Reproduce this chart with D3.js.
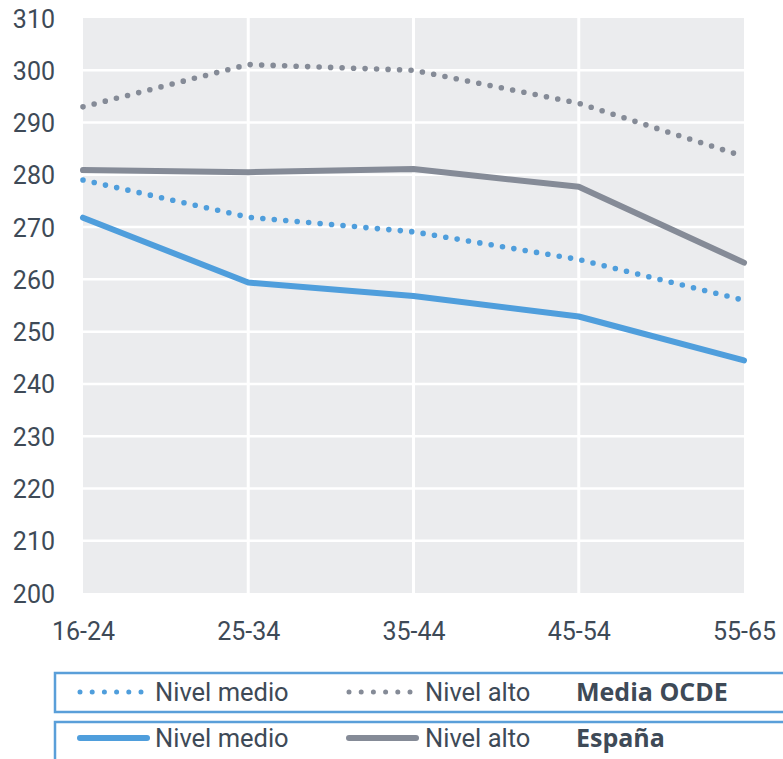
<!DOCTYPE html>
<html>
<head>
<meta charset="utf-8">
<script src="https://cdn.jsdelivr.net/npm/d3@7"></script>
<style>
  body { margin: 0; background: #fff; }
  text { font-family: Roboto, "Noto Sans", sans-serif; fill: #3e4a57; }
  text.legend-title { font-family: "Open Sans", Roboto, sans-serif; font-weight: bold; }
</style>
</head>
<body>
<div class="line-chart"></div>
<script>
// age groups and scores
const ageGroups = ["16-24", "25-34", "35-44", "45-54", "55-65"]
const oecdMedio = [279, 271.9, 269.1, 263.8, 256]
const oecdAlto = [293, 301.1, 300, 293.7, 283.5]
const spainMedio = [271.8, 259.4, 256.8, 252.9, 244.5]
const spainAlto = [280.9, 280.5, 281.1, 277.7, 263.2]
const yTicks = [200, 210, 220, 230, 240, 250, 260, 270, 280, 290, 300, 310]

const legendRows = [
  { title: "Media OCDE", items: [
    { label: "Nivel medio", color: "blue", dotted: true },
    { label: "Nivel alto", color: "gray", dotted: true }
  ]},
  { title: "España", items: [
    { label: "Nivel medio", color: "blue", dotted: false },
    { label: "Nivel alto", color: "gray", dotted: false }
  ]}
]

const colors = { blue: "#4f9edc", gray: "#858b97" }

/**
* Draws the score-by-age line chart with its boxed legend
*/
function generateLineChart () {
  const width = 783
  const height = 759
  const margin = { top: 18, right: 39, bottom: 166, left: 83 }

  const svg = d3.select(".line-chart").append("svg")
    .attr("width", width)
    .attr("height", height)

  const x = d3.scalePoint()
    .domain(ageGroups)
    .range([margin.left, width - margin.right])

  const y = d3.scaleLinear()
    .domain([200, 310])
    .range([height - margin.bottom, margin.top])

  // plot background
  svg.append("rect")
    .attr("x", x.range()[0])
    .attr("y", y(310))
    .attr("width", x.range()[1] - x.range()[0])
    .attr("height", y(200) - y(310))
    .attr("fill", "#ebecee")

  // white grid
  svg.append("g")
    .selectAll("line")
    .data(yTicks.slice(1, -1))
    .enter().append("line")
    .attr("x1", x.range()[0])
    .attr("x2", x.range()[1])
    .attr("y1", d => y(d))
    .attr("y2", d => y(d))
    .attr("stroke", "#fff")
    .attr("stroke-width", 2.5)

  svg.append("g")
    .selectAll("line")
    .data(ageGroups.slice(1, -1))
    .enter().append("line")
    .attr("x1", d => x(d))
    .attr("x2", d => x(d))
    .attr("y1", y(310))
    .attr("y2", y(200))
    .attr("stroke", "#fff")
    .attr("stroke-width", 3)

  // axes
  const yAxis = svg.append("g")
    .attr("transform", "translate(" + (margin.left - 28) + ",0)")
    .call(d3.axisLeft(y).tickValues(yTicks).tickSize(0).tickPadding(0))
  yAxis.select(".domain").remove()
  yAxis.selectAll("text")
    .attr("font-size", 25)
    .attr("font-family", null)
    .attr("dy", "0.36em")

  const xAxis = svg.append("g")
    .attr("transform", "translate(0," + y(200) + ")")
    .call(d3.axisBottom(x).tickSize(0).tickPadding(0))
  xAxis.select(".domain").remove()
  xAxis.selectAll("text")
    .attr("font-size", 25)
    .attr("font-family", null)
    .attr("dy", null)
    .attr("y", 47)

  const line = d3.line()
    .x((d, i) => x(ageGroups[i]))
    .y(d => y(d))

  const series = [
    { values: oecdAlto, color: colors.gray, dotted: true },
    { values: oecdMedio, color: colors.blue, dotted: true },
    { values: spainAlto, color: colors.gray, dotted: false },
    { values: spainMedio, color: colors.blue, dotted: false }
  ]

  svg.append("g")
    .selectAll("path")
    .data(series)
    .enter().append("path")
    .attr("d", d => line(d.values))
    .attr("fill", "none")
    .attr("stroke", d => d.color)
    .attr("stroke-width", d => d.dotted ? 5.6 : 6)
    .attr("stroke-dasharray", d => d.dotted ? "0 11.5" : null)
    .attr("stroke-linecap", "round")
    .attr("stroke-linejoin", "round")

  // legend boxes
  const legend = svg.append("g")
  const rowTop = [673, 722]
  const itemX = [78, 347]

  legendRows.forEach((row, r) => {
    const g = legend.append("g").attr("transform", "translate(0," + rowTop[r] + ")")
    g.append("rect")
      .attr("x", 55)
      .attr("y", 0)
      .attr("width", 760)
      .attr("height", r === 0 ? 39 : 60)
      .attr("fill", "none")
      .attr("stroke", "#5a9fd9")
      .attr("stroke-width", 2.5)

    row.items.forEach((item, i) => {
      const sx = itemX[i]
      if (item.dotted) {
        g.append("line")
          .attr("x1", sx + 2)
          .attr("x2", sx + 63)
          .attr("y1", 19)
          .attr("y2", 19)
          .attr("stroke", colors[item.color])
          .attr("stroke-width", 5)
          .attr("stroke-dasharray", "0 12.2")
          .attr("stroke-linecap", "round")
      } else {
        g.append("line")
          .attr("x1", sx + 2)
          .attr("x2", sx + 69)
          .attr("y1", 16)
          .attr("y2", 16)
          .attr("stroke", colors[item.color])
          .attr("stroke-width", 6)
          .attr("stroke-linecap", "round")
      }
      g.append("text")
        .attr("x", i === 0 ? 155 : 425)
        .attr("y", r === 0 ? 28 : 25)
        .attr("font-size", 25.5)
        .text(item.label)
    })

    g.append("text")
      .attr("class", "legend-title")
      .attr("x", 576)
      .attr("y", r === 0 ? 28 : 25)
      .attr("font-size", 25)
      .text(row.title)
  })
}

generateLineChart()
</script>
</body>
</html>
